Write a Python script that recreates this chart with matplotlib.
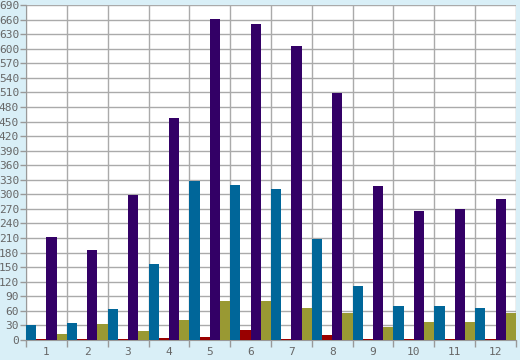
import matplotlib
matplotlib.use("Agg")
import matplotlib.pyplot as plt
import numpy as np

groups = ["1", "2", "3", "4", "5", "6", "7", "8", "9", "10", "11", "12"]
blue = [30, 35, 64, 156, 327, 319, 311, 208, 111, 70, 70, 66]
red = [2, 2, 2, 4, 6, 21, 2, 11, 2, 2, 2, 2]
purple = [212, 185, 299, 457, 661, 651, 605, 509, 317, 266, 270, 290]
olive = [12, 33, 19, 41, 80, 80, 66, 56, 27, 37, 37, 56]

series = [blue, red, purple, olive]
colors = ["#006699", "#990000", "#330066", "#999933"]

fig = plt.figure(figsize=(5.2, 3.6), dpi=100)
fig.patch.set_facecolor("#d9eff7")
ax = fig.add_axes([26/520, 20/360, 490/520, 335/360])
ax.set_facecolor("white")

n = len(groups)
x = np.arange(n)
w = 0.25
for j, (vals, c) in enumerate(zip(series, colors)):
    ax.bar(x + w/2 + j*w, vals, width=w, color=c, linewidth=0, zorder=3)

ax.set_xlim(0, n)
ax.set_ylim(0, 690)
ax.set_yticks(np.arange(0, 691, 30))
ax.set_xticks(x + 0.5)
ax.set_xticklabels(groups)
ax.set_xticks(np.arange(0, n + 1), minor=True)
ax.tick_params(axis="x", which="major", length=0, pad=5, labelsize=8, colors="#666666")
ax.tick_params(axis="x", which="minor", length=5, width=1, color="#999999")
ax.tick_params(axis="y", length=4, width=1, color="#999999", labelsize=8, labelcolor="#666666", pad=1)
for lab in ax.get_xticklabels() + ax.get_yticklabels():
    lab.set_family("DejaVu Sans Mono")

ax.grid(axis="y", color="#aaaaaa", linewidth=1, zorder=0)
ax.grid(axis="x", which="minor", color="#aaaaaa", linewidth=1, zorder=0)
for s in ["top", "right"]:
    ax.spines[s].set_visible(False)
for s in ["left", "bottom"]:
    ax.spines[s].set_color("#999999")
ax.set_axisbelow(True)

fig.savefig("out.png", dpi=100, facecolor=fig.get_facecolor())
